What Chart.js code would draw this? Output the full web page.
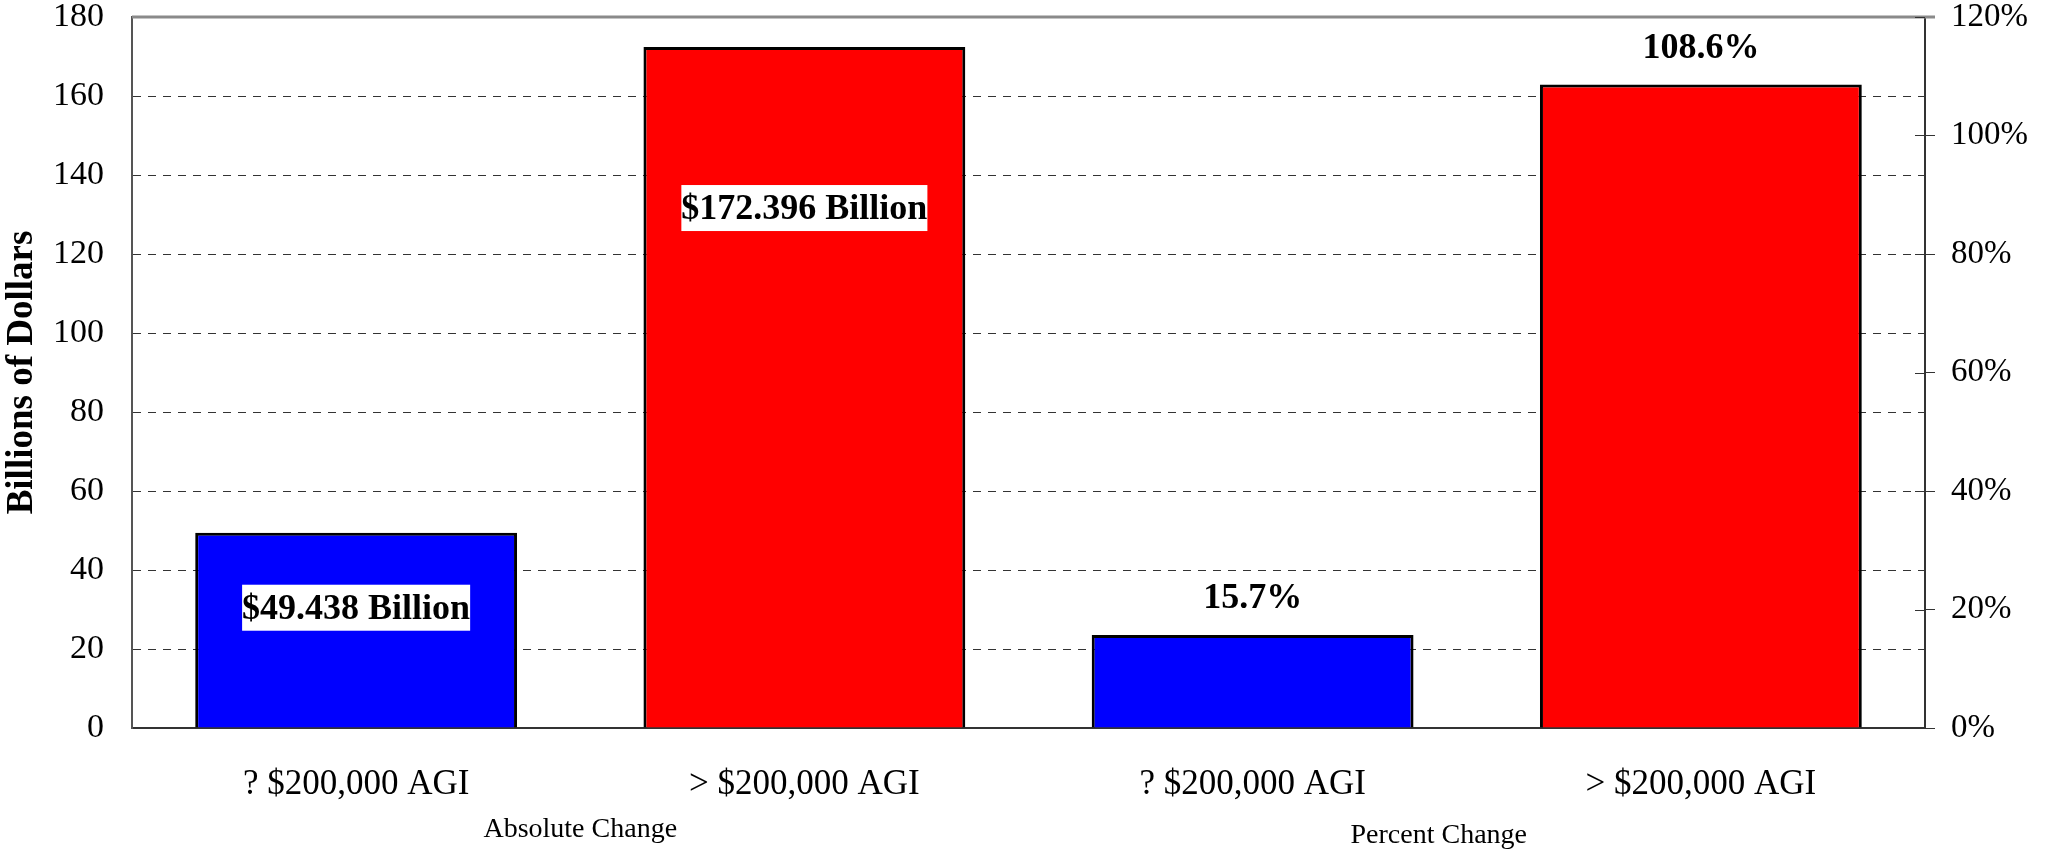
<!DOCTYPE html>
<html>
<head>
<meta charset="utf-8">
<script src="https://cdn.jsdelivr.net/npm/chart.js@4/dist/chart.umd.min.js"></script>
<style>
    body { margin: 0; background: #fff; }
</style>
</head>
<body>
<canvas id="graficoAgi" width="2049" height="850"></canvas>
<script>
        var categorias = ['? $200,000 AGI', '> $200,000 AGI', '? $200,000 AGI', '> $200,000 AGI']
        var grupos = ['Absolute Change', 'Percent Change']
        // variação absoluta (bilhões) e percentual
        var bilhoes = [49.438, 172.396, null, null]
        var percentual = [null, null, 15.7, 108.6]
        var coresBarras = ['#0000ff', '#ff0000', '#0000ff', '#ff0000']

        var fonteSerif = '"Liberation Serif", "Times New Roman", serif'
        Chart.defaults.font.family = fonteSerif
        Chart.defaults.color = '#000'

        // Rótulos dos valores, eixo direito e linha superior
        var rotulos = {
            id: 'rotulos',
            afterDatasetsDraw(chart) {
                var ctx = chart.ctx
                var deslocamento = [75, 161]
                ctx.save()
                ctx.textAlign = 'center'
                ctx.textBaseline = 'middle'

                ctx.font = 'bold 36px ' + fonteSerif
                chart.getDatasetMeta(0).data.forEach((barra, i) => {
                    if (bilhoes[i] == null) return
                    var texto = '$' + bilhoes[i].toFixed(3) + ' Billion'
                    var y = barra.y + deslocamento[i]
                    var w = ctx.measureText(texto).width
                    ctx.fillStyle = '#fff'
                    ctx.fillRect(barra.x - w / 2, y - 23, w, 46)
                    ctx.fillStyle = '#000'
                    ctx.fillText(texto, barra.x, y + 2)
                })

                ctx.font = 'bold 36px ' + fonteSerif
                chart.getDatasetMeta(1).data.forEach((barra, i) => {
                    if (percentual[i] == null) return
                    ctx.fillText(percentual[i].toFixed(1) + '%', barra.x, barra.y - 36)
                })
                ctx.restore()
            },
            afterDraw(chart) {
                var ctx = chart.ctx
                var area = chart.chartArea
                var x = chart.scales.x
                var y1 = chart.scales.y1
                ctx.save()

                // linha superior cinza
                ctx.strokeStyle = '#8a8a8a'
                ctx.lineWidth = 3
                ctx.beginPath()
                ctx.moveTo(area.left, area.top)
                ctx.lineTo(area.right + 10, area.top)
                ctx.stroke()

                // marcas internas do eixo percentual
                ctx.strokeStyle = '#333'
                ctx.lineWidth = 1
                y1.ticks.forEach((t) => {
                    var py = Math.round(y1.getPixelForValue(t.value)) + 0.5
                    ctx.beginPath()
                    ctx.moveTo(area.right - 10, py)
                    ctx.lineTo(area.right, py)
                    ctx.stroke()
                })

                // nomes dos grupos
                ctx.font = '28px ' + fonteSerif
                ctx.fillStyle = '#000'
                ctx.textAlign = 'center'
                ctx.textBaseline = 'middle'
                var ajusteX = [0, -38]
                var posY = [830, 836]
                grupos.forEach((g, i) => {
                    var cx = (x.getPixelForValue(i * 2) + x.getPixelForValue(i * 2 + 1)) / 2
                    ctx.fillText(g, cx + ajusteX[i], posY[i])
                })
                ctx.restore()
            }
        }

        var graficoAgi = new Chart(document.getElementById('graficoAgi').getContext('2d'), {
            type: 'bar',
            data: {
                labels: categorias,
                datasets: [{
                    label: 'Billions of Dollars',
                    data: bilhoes,
                    yAxisID: 'y',
                    backgroundColor: coresBarras,
                    borderColor: '#000',
                    borderWidth: 3,
                    grouped: false
                }, {
                    label: 'Percent Change',
                    data: percentual,
                    yAxisID: 'y1',
                    backgroundColor: coresBarras,
                    borderColor: '#000',
                    borderWidth: 3,
                    grouped: false
                }]
            },
            options: {
                responsive: false,
                animation: false,
                devicePixelRatio: 1,
                barPercentage: 0.718,
                categoryPercentage: 1,
                layout: {
                    padding: { top: 17, left: 0, right: 0, bottom: 0 }
                },
                plugins: {
                    legend: { display: false },
                    tooltip: { enabled: false }
                },
                scales: {
                    x: {
                        grid: { display: false },
                        border: { display: true, color: '#333', width: 2 },
                        ticks: {
                            font: { size: 35 },
                            padding: 28,
                            maxRotation: 0,
                            autoSkip: false
                        },
                        afterFit: (s) => {
                            s.height = 122
                            s.paddingLeft = 0
                            s.paddingRight = 0
                        }
                    },
                    y: {
                        position: 'left',
                        min: 0,
                        max: 180,
                        ticks: {
                            stepSize: 20,
                            font: { size: 34 },
                            padding: 28
                        },
                        grid: {
                            drawTicks: false,
                            color: (c) => (c.tick.value == 0 || c.tick.value == 180) ? 'rgba(0,0,0,0)' : '#333',
                            lineWidth: 1
                        },
                        border: { color: '#555', width: 2, dash: [8, 7] },
                        title: {
                            display: true,
                            text: 'Billions of Dollars',
                            font: { size: 37, weight: 'bold' },
                            padding: { top: 0, bottom: 0 }
                        },
                        afterFit: (s) => {
                            s.width = 132
                            s.paddingTop = 0
                            s.paddingBottom = 0
                        }
                    },
                    y1: {
                        position: 'right',
                        min: 0,
                        max: 120,
                        ticks: {
                            stepSize: 20,
                            font: { size: 33 },
                            padding: 16,
                            callback: (v) => v + '%'
                        },
                        grid: {
                            drawOnChartArea: false,
                            tickLength: 10,
                            color: '#333'
                        },
                        border: { color: '#333', width: 2 },
                        afterFit: (s) => {
                            s.width = 124
                            s.paddingTop = 0
                            s.paddingBottom = 0
                        }
                    }
                }
            },
            plugins: [rotulos]
        });
</script>
</body>
</html>
